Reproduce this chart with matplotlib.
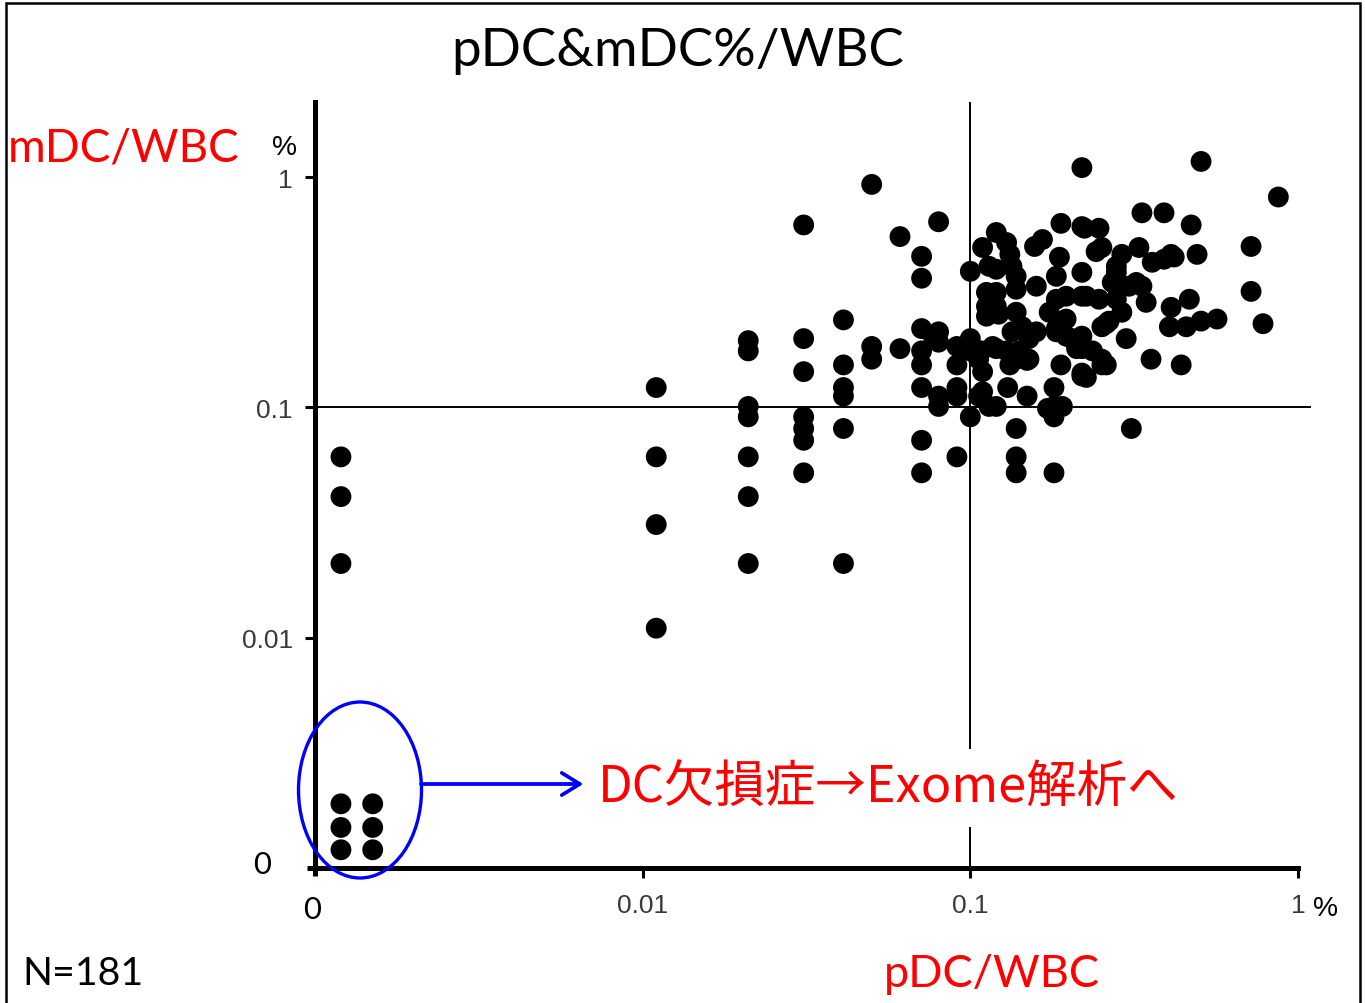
import matplotlib
matplotlib.use('Agg')
import matplotlib.pyplot as plt
from matplotlib.patches import Ellipse, Rectangle

plt.rcParams['font.family'] = ['Lato', 'Noto Sans CJK JP', 'DejaVu Sans']

W, H = 1365, 1004

# pDC / mDC (% of WBC)
pdc = ([0.011] * 4 + [0.021] * 7 + [0.031] * 7 + [0.041] * 6 + [0.05] * 3
       + [0.061] * 2 + [0.071] * 8 + [0.077] + [0.08] * 5 + [0.091] * 5
       + [0.1] * 4 + [0.106] * 2 + [0.108] + [0.109] * 3 + [0.112] * 3
       + [0.114] * 2 + [0.117] + [0.12] * 6 + [0.122] + [0.129] * 2 + [0.13]
       + [0.132] * 2 + [0.134] * 2 + [0.138] * 7 + [0.141] + [0.144]
       + [0.149] * 2 + [0.151] * 2 + [0.157] + [0.159] * 2 + [0.166]
       + [0.172] + [0.174] + [0.18] * 4 + [0.183] * 4 + [0.187]
       + [0.189] * 2 + [0.191] + [0.196] * 3 + [0.204] + [0.211] * 2
       + [0.219] * 8 + [0.223] + [0.226] * 2 + [0.236] + [0.242]
       + [0.247] * 2 + [0.252] * 4 + [0.26] * 2 + [0.265] + [0.271]
       + [0.279] * 4 + [0.29] * 2 + [0.299] + [0.305] + [0.31] + [0.321]
       + [0.327] + [0.334] * 2 + [0.344] + [0.356] + [0.359] + [0.39] * 2
       + [0.405] + [0.41] * 2 + [0.419] + [0.44] + [0.456] + [0.466]
       + [0.472] + [0.492] + [0.506] * 2 + [0.566] + [0.719] * 2 + [0.782]
       + [0.871])

mdc = ([0.122, 0.061, 0.031, 0.011]
       + [0.195, 0.176, 0.101, 0.091, 0.061, 0.041, 0.021]
       + [0.62, 0.199, 0.143, 0.091, 0.081, 0.072, 0.052]
       + [0.24, 0.153, 0.122, 0.112, 0.081, 0.021]
       + [0.93, 0.184, 0.162]
       + [0.552, 0.18]
       + [0.453, 0.364, 0.22, 0.176, 0.153, 0.122, 0.072, 0.052]
       + [0.204]
       + [0.64, 0.213, 0.192, 0.112, 0.101]
       + [0.184, 0.153, 0.122, 0.112, 0.061]
       + [0.39, 0.199, 0.176, 0.091]
       + [0.162, 0.112]
       + [0.176]
       + [0.495, 0.143, 0.117]
       + [0.316, 0.275, 0.249]
       + [0.41, 0.101]
       + [0.184]
       + [0.575, 0.398, 0.316, 0.275, 0.101, 0.18]
       + [0.254]
       + [0.52, 0.176]
       + [0.122]
       + [0.462, 0.153]
       + [0.41, 0.213]
       + [0.371, 0.326, 0.259, 0.081, 0.061, 0.052, 0.162]
       + [0.176]
       + [0.224]
       + [0.112, 0.16]
       + [0.162, 0.199]
       + [0.50]
       + [0.336, 0.213]
       + [0.536]
       + [0.099]
       + [0.259]
       + [0.122, 0.091, 0.052, 0.101]
       + [0.371, 0.295, 0.22, 0.213]
       + [0.449]
       + [0.63, 0.153]
       + [0.101]
       + [0.304, 0.242, 0.204]
       + [0.199]
       + [0.192, 0.18]
       + [1.10, 0.61, 0.386, 0.304, 0.204, 0.18, 0.137, 0.141]
       + [0.60]
       + [0.304, 0.135]
       + [0.176]
       + [0.475]
       + [0.60, 0.295]
       + [0.495, 0.224, 0.153, 0.162]
       + [0.153, 0.231]
       + [0.237]
       + [0.349]
       + [0.41, 0.336, 0.295, 0.386]
       + [0.462, 0.259]
       + [0.199]
       + [0.336]
       + [0.081]
       + [0.349]
       + [0.495]
       + [0.70, 0.336]
       + [0.286]
       + [0.162]
       + [0.427]
       + [0.70, 0.44]
       + [0.224]
       + [0.272, 0.462]
       + [0.45]
       + [0.153]
       + [0.224]
       + [0.295]
       + [0.62]
       + [0.462]
       + [1.17, 0.237]
       + [0.242]
       + [0.50, 0.319]
       + [0.231]
       + [0.82])

# pDC = 0 (drawn just right of the "0" position)
pdc_zero_x = [0.0012, 0.0012, 0.0012]
pdc_zero_mdc = [0.061, 0.041, 0.021]

# pDC = 0 and mDC = 0 (6 cases, drawn as a small grid)
both_zero_x = [0.0012, 0.0012, 0.0012, 0.0015, 0.0015, 0.0015]
both_zero_y = [0.0019, 0.0015, 0.0012, 0.0019, 0.0015, 0.0012]

tick_vals = [1e-3, 0.01, 0.1, 1]
tick_text = ['', '0.01', '0.1', '1']
ytick_vals = [1e-3, 0.01, 0.1, 1]
ytick_text = ['', '0.01', '0.1', '1']


def fx(px):
    return px / W


def fy(py):
    return 1 - py / H


fig = plt.figure(figsize=(W / 100, H / 100), dpi=100)
ax = fig.add_axes([fx(315), fy(869), fx(1298) - fx(315), fy(103) - fy(869)])

ax.set_xscale('log')
ax.set_yscale('log')
ax.set_xlim(1e-3, 1.0)
ax.set_ylim(1e-3, 2.12)

ax.axvline(0.1, color='black', lw=1.4, zorder=1)
ax.plot([1e-3, 1.09], [0.1, 0.1], color='black', lw=1.4, zorder=1,
        clip_on=False)

dot = dict(s=225, color='black', edgecolors='none', zorder=3, clip_on=False)
ax.scatter(pdc, mdc, **dot)
ax.scatter(pdc_zero_x, pdc_zero_mdc, **dot)
ax.scatter(both_zero_x, both_zero_y, **dot)

for side in ['top', 'right']:
    ax.spines[side].set_visible(False)
for side in ['left', 'bottom']:
    ax.spines[side].set_linewidth(3.6)

ax.minorticks_off()
ax.set_xticks(tick_vals)
ax.set_xticklabels(tick_text)
ax.set_yticks(ytick_vals)
ax.set_yticklabels(ytick_text)
ax.tick_params(axis='both', direction='out', length=7, width=2.2,
               labelsize=19, labelcolor='#3a3a3a', pad=9)
ax.tick_params(axis='x', pad=11)
for lab in ax.get_xticklabels() + ax.get_yticklabels():
    lab.set_family(['Liberation Sans'])
ax.xaxis.get_major_ticks()[0].tick1line.set_markeredgewidth(3.6)
ax.yaxis.get_major_ticks()[0].tick1line.set_markeredgewidth(3.6)
ax.xaxis.get_major_ticks()[0].tick1line.set_markersize(6)
ax.yaxis.get_major_ticks()[0].tick1line.set_markersize(6)

# frame around the whole picture
fig.patches.append(Rectangle((fx(6), -0.05), fx(1360) - fx(6), fy(4) + 0.05,
                             transform=fig.transFigure, fill=False,
                             edgecolor='black', lw=1.8))

renderer = fig.canvas.get_renderer()


def label(x, y, s, width, color='black', ha='left', family=None, **kw):
    t = fig.text(fx(x), fy(y), s, color=color, ha=ha, va='baseline',
                 fontsize=30, **kw)
    if family:
        t.set_family(family)
    bb = t.get_window_extent(renderer)
    t.set_fontsize(30 * width / bb.width)
    return t


label(678, 66, 'pDC&mDC%/WBC', 453, ha='center')
label(8, 162, 'mDC/WBC', 232, color='red')
label(272, 155, '%', 25, family=['Liberation Sans'])
label(884, 987, 'pDC/WBC', 216, color='red')
label(22, 985, 'N=181', 121)
label(253, 874, '0', 18)
label(303, 919, '0', 18)
label(1313, 916, '%', 25, family=['Liberation Sans'])
note = label(598, 803, 'DC欠損症→Exome解析へ', 580, color='red',
             family=['Noto Sans CJK JP', 'DejaVu Sans'])
note.set_bbox(dict(facecolor='white', edgecolor='none', pad=9))
note.set_zorder(5)

fig.patches.append(Ellipse((fx(360), fy(791)), 123 / W, 176 / H,
                           transform=fig.transFigure, fill=False,
                           edgecolor='#0000ff', lw=2.4))
fig.add_artist(plt.annotate('', xy=(583, H - 785), xytext=(421, H - 785),
                            xycoords='figure pixels',
                            textcoords='figure pixels',
                            arrowprops=dict(arrowstyle='->,head_length=0.65,head_width=0.4',
                                            color='#0000ff', lw=2.4,
                                            mutation_scale=20,
                                            shrinkA=0, shrinkB=0)))

fig.savefig('out.png', dpi=100, facecolor='white')
